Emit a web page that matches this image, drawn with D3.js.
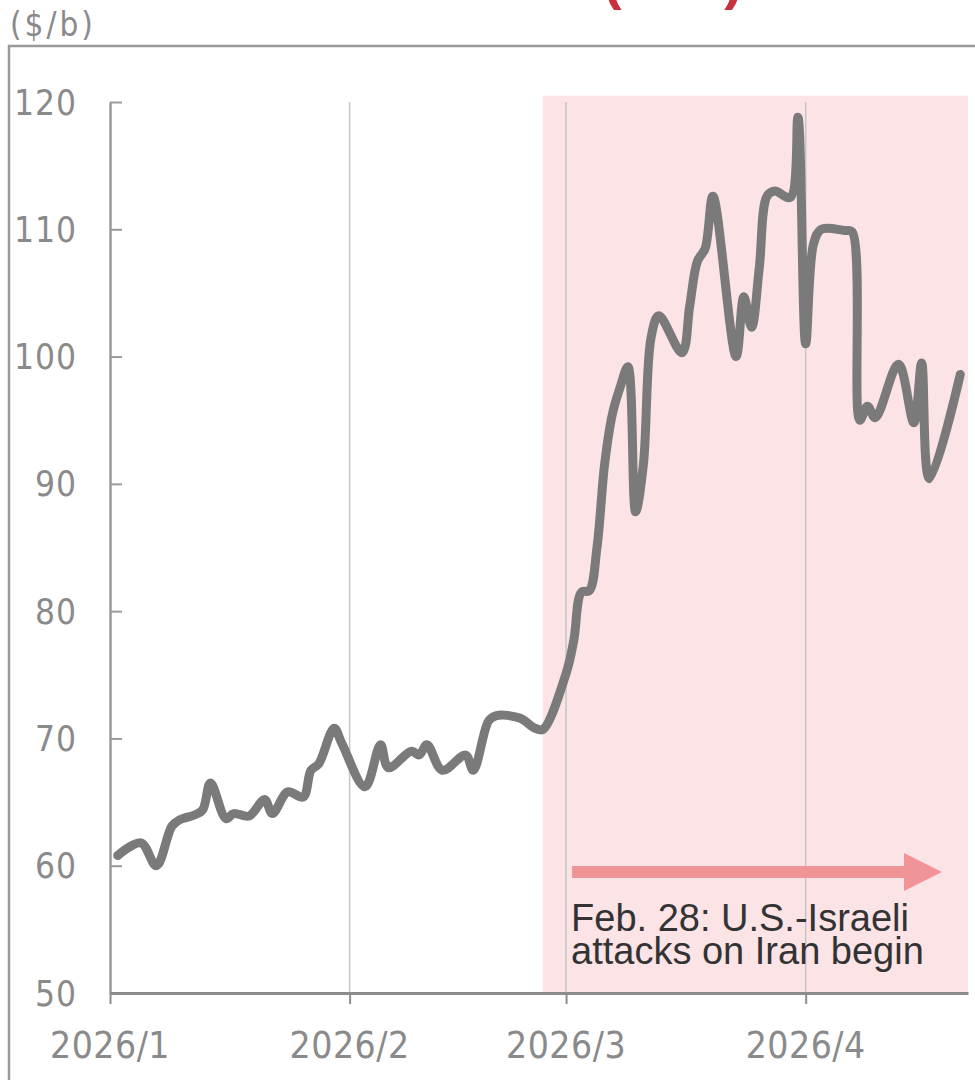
<!DOCTYPE html>
<html>
<head>
<meta charset="utf-8">
<script src="https://cdn.jsdelivr.net/npm/d3@7"></script>
<style>
  html, body { margin: 0; padding: 0; background: #fff; }
  svg { display: block; }
</style>
</head>
<body>
<svg width="975" height="1080"></svg>
<script>
// daily crude price ($/b)
var dates = [
  "2026-01-02","2026-01-05","2026-01-07","2026-01-09","2026-01-10","2026-01-12","2026-01-13","2026-01-14",
  "2026-01-16","2026-01-17","2026-01-19","2026-01-21","2026-01-22","2026-01-24","2026-01-26","2026-01-27",
  "2026-01-28","2026-01-30","2026-01-31","2026-02-03","2026-02-05","2026-02-06","2026-02-09","2026-02-10",
  "2026-02-11","2026-02-13","2026-02-16","2026-02-17","2026-02-19","2026-02-20","2026-02-23","2026-02-25",
  "2026-02-26","2026-03-01","2026-03-02","2026-03-03","2026-03-04","2026-03-05","2026-03-06","2026-03-07",
  "2026-03-08","2026-03-09","2026-03-10","2026-03-11","2026-03-12","2026-03-13","2026-03-16","2026-03-17",
  "2026-03-18","2026-03-19","2026-03-20","2026-03-23","2026-03-24","2026-03-25","2026-03-26","2026-03-27",
  "2026-03-28","2026-03-30","2026-03-31","2026-04-01","2026-04-02","2026-04-03","2026-04-06","2026-04-07",
  "2026-04-08","2026-04-09","2026-04-10","2026-04-13","2026-04-15","2026-04-16","2026-04-17","2026-04-21"
];
var prices = [
  60.8, 61.8, 60.0, 63.1, 63.6, 64.0, 64.4, 66.5,
  63.7, 64.1, 63.9, 65.2, 64.1, 65.8, 65.4, 67.5,
  68.0, 70.8, 69.6, 66.2, 69.5, 67.7, 69.0, 68.7,
  69.5, 67.5, 68.7, 67.5, 71.4, 71.8, 71.6, 70.8,
  70.7, 75.1, 77.7, 81.5, 81.6, 85.0, 91.6, 95.5,
  97.6, 99.2, 87.8, 91.5, 101.5, 103.2, 100.3, 104.0,
  107.5, 108.5, 112.6, 100.0, 104.7, 102.3, 107.0, 112.6,
  113.0, 112.5, 118.8, 101.0, 108.8, 110.0, 109.9, 109.8,
  95.0, 96.1, 95.2, 99.4, 94.8, 99.5, 90.4, 98.6
];

var monthTicks = ["2026-01-01", "2026-02-01", "2026-03-01", "2026-04-01"];
var monthLabels = ["2026/1", "2026/2", "2026/3", "2026/4"];
var yTicks = [50, 60, 70, 80, 90, 100, 110, 120];

var xStart = "2026-01-01", xEnd = "2026-04-22";
var shadeStart = "2026-02-26", shadeTop = 120.5;
var note = ["Feb. 28: U.S.-Israeli", "attacks on Iran begin"];

var parse = d3.utcParse("%Y-%m-%d");
var data = dates.map(function(d, i) { return { date: parse(d), value: prices[i] }; });

var svg = d3.select("svg");
var axisFont = "'DejaVu Sans Condensed', 'DejaVu Sans', sans-serif";

var x = d3.scaleUtc().domain([parse(xStart), parse(xEnd)]).range([110, 968]);
var y = d3.scaleLinear().domain([50, 120]).range([993, 102]);

// outer frame (runs off the page at right and bottom)
svg.append("rect")
  .attr("x", 9).attr("y", 46).attr("width", 1000).attr("height", 1100)
  .attr("fill", "none").attr("stroke", "#9a9a9a").attr("stroke-width", 2.5);

// title, cut off at the top: only the bottoms of the brackets show
svg.append("text")
  .attr("x", 603).attr("y", -2)
  .attr("font-family", "'Liberation Sans', Arial, sans-serif")
  .attr("font-weight", "bold").attr("font-size", 56)
  .attr("fill", "#c8323c")
  .text("(WTI)");

svg.append("text")
  .attr("x", 10).attr("y", 36)
  .attr("font-family", axisFont).attr("font-size", 33)
  .attr("letter-spacing", 3)
  .attr("fill", "#8a8a8a")
  .text("($/b)");

// shaded conflict period
svg.append("rect")
  .attr("x", x(parse(shadeStart)))
  .attr("y", y(shadeTop))
  .attr("width", x(parse(xEnd)) - x(parse(shadeStart)))
  .attr("height", y(50) - y(shadeTop))
  .attr("fill", "#fbe3e6");

// month gridlines
svg.append("g").selectAll("line")
  .data(monthTicks.slice(1))
  .join("line")
  .attr("x1", function(d) { return x(parse(d)); })
  .attr("x2", function(d) { return x(parse(d)); })
  .attr("y1", y(120)).attr("y2", y(50))
  .attr("stroke", "#c4c4c4").attr("stroke-width", 1.5);

// y axis (ticks point inward)
var yAxis = svg.append("g")
  .attr("transform", "translate(" + x(parse(xStart)) + ",0)")
  .call(d3.axisRight(y).tickValues(yTicks).tickSize(12).tickSizeOuter(0).tickFormat(""));
yAxis.select(".domain").attr("stroke", "#9a9a9a").attr("stroke-width", 2.5);
yAxis.selectAll(".tick line").attr("stroke", "#9a9a9a").attr("stroke-width", 2);

svg.append("g").selectAll("text")
  .data(yTicks)
  .join("text")
  .attr("x", 77)
  .attr("y", function(d) { return y(d); })
  .attr("dy", "0.36em")
  .attr("text-anchor", "end")
  .attr("font-family", axisFont).attr("font-size", 35)
  .attr("letter-spacing", 1)
  .attr("fill", "#8a8a8a")
  .text(function(d) { return d; });

// x axis
var xAxis = svg.append("g")
  .attr("transform", "translate(0," + y(50) + ")")
  .call(d3.axisBottom(x).tickValues(monthTicks.map(parse)).tickSize(11).tickSizeOuter(0).tickFormat(""));
xAxis.select(".domain").attr("stroke", "#8c8c8c").attr("stroke-width", 3);
xAxis.selectAll(".tick line").attr("stroke", "#8c8c8c").attr("stroke-width", 2);

svg.append("g").selectAll("text")
  .data(monthTicks)
  .join("text")
  .attr("x", function(d) { return x(parse(d)); })
  .attr("y", 1058)
  .attr("text-anchor", "middle")
  .attr("font-family", axisFont).attr("font-size", 37)
  .attr("letter-spacing", 0.5)
  .attr("fill", "#8a8a8a")
  .text(function(d, i) { return monthLabels[i]; });

// price line
var line = d3.line()
  .x(function(d) { return x(d.date); })
  .y(function(d) { return y(d.value); })
  .curve(d3.curveCatmullRom.alpha(0.5));

svg.append("path")
  .datum(data)
  .attr("d", line)
  .attr("fill", "none")
  .attr("stroke", "#7a7a7a")
  .attr("stroke-width", 9)
  .attr("stroke-linejoin", "round")
  .attr("stroke-linecap", "round");

// annotation arrow
var ax0 = x(parse("2026-03-01")) + 6, ax1 = 942, ay = y(59.5);
svg.append("line")
  .attr("x1", ax0).attr("x2", ax1 - 36)
  .attr("y1", ay).attr("y2", ay)
  .attr("stroke", "#f09597").attr("stroke-width", 12);
svg.append("path")
  .attr("d", "M" + (ax1 - 38) + "," + (ay - 19) + "L" + ax1 + "," + ay + "L" + (ax1 - 38) + "," + (ay + 19) + "Z")
  .attr("fill", "#f09597");

svg.append("text")
  .attr("font-family", "'Liberation Sans', Arial, sans-serif")
  .attr("font-size", 38)
  .attr("fill", "#333")
  .selectAll("tspan")
  .data(note)
  .join("tspan")
  .attr("x", ax0 - 1)
  .attr("y", function(d, i) { return 931 + i * 33; })
  .text(function(d) { return d; });
</script>
</body>
</html>
